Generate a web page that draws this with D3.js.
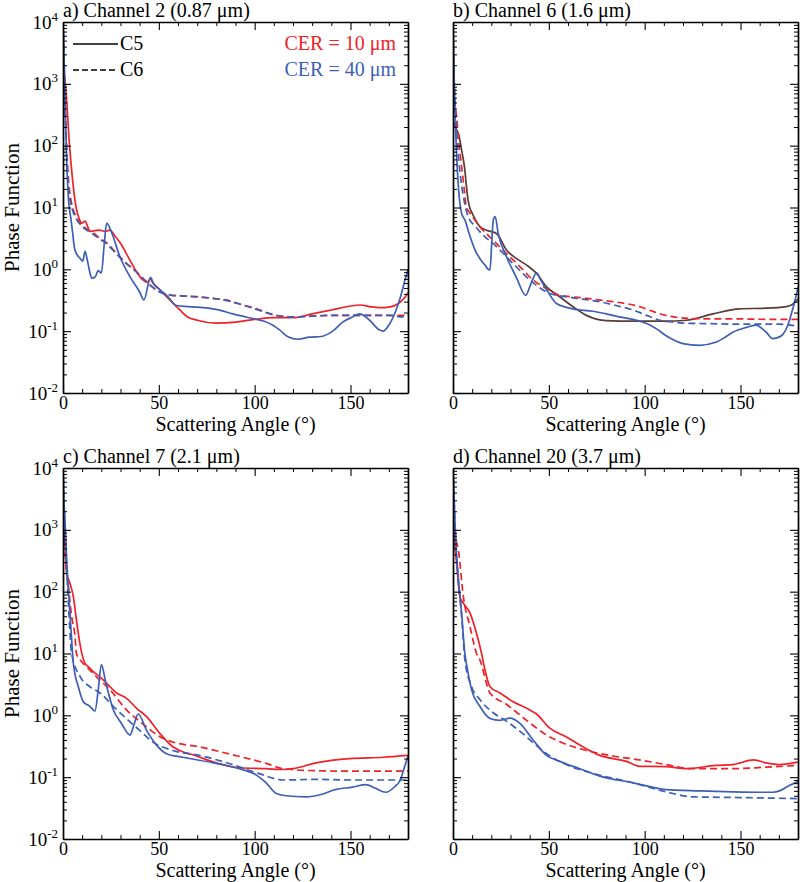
<!DOCTYPE html>
<html>
<head>
<meta charset="utf-8">
<script src="https://cdn.jsdelivr.net/npm/d3@7"></script>
<style>
  html, body { margin: 0; padding: 0; background: #fff; }
  svg { display: block; }
</style>
</head>
<body>
<svg id="chart" width="800" height="882"></svg>
<script>
// ---------------- DATA ----------------
const panelTitles = ["a) Channel 2 (0.87 \u03bcm)", "b) Channel 6 (1.6 \u03bcm)", "c) Channel 7 (2.1 \u03bcm)", "d) Channel 20 (3.7 \u03bcm)"];
const xTicks = [0, 50, 100, 150];
const yTicks = [1e-2, 1e-1, 1e0, 1e1, 1e2, 1e3, 1e4];
const legendVersions = ["C5", "C6"];
const legendSizes = ["CER = 10 \u03bcm", "CER = 40 \u03bcm"];

// Panel a) Channel 2
const a_C5_10 = [[0,2500],[1,1200],[2,500],[3,150],[4,60],[5,28],[6,15],[7,9.5],[8,7.2],[10,5.6],[11.5,6.0],[13,4.8],[14,4.1],[16,4.2],[19,4.3],[22,4.1],[24.5,4.3],[27,3.5],[30.5,2.5],[33,1.8],[35.8,1.26],[38,0.95],[41.8,0.67],[44,0.62],[45.5,0.7],[47,0.6],[50.5,0.47],[55.7,0.32],[61,0.22],[65,0.17],[70,0.15],[80,0.135],[90,0.14],[100,0.155],[110,0.165],[120,0.165],[130,0.19],[140,0.22],[150,0.255],[155,0.265],[160,0.25],[165,0.24],[170,0.245],[175,0.28],[178,0.34],[180,0.42]];
const a_C6_10 = [[0,10000],[0.5,2000],[1,500],[2,80],[3,25],[4,14],[5,10],[7,7],[9,5.6],[12,4.6],[15.8,3.9],[19,3.2],[22.7,2.7],[28,1.8],[33,1.26],[38.4,0.91],[43.6,0.63],[50.5,0.43],[57,0.38],[64,0.37],[71,0.36],[78,0.34],[85,0.32],[93,0.27],[101,0.23],[106,0.2],[111,0.18],[120,0.17],[130,0.175],[140,0.18],[150,0.18],[160,0.18],[170,0.18],[180,0.18]];
const a_C5_40 = [[0,10000],[0.5,3000],[1,600],[2,50],[3,12],[4,7],[5,4],[6,2.2],[7,1.8],[9,1.5],[10.3,1.35],[11.5,1.95],[12.7,1.4],[14,0.9],[15,0.72],[16.7,0.75],[18.4,0.95],[20,0.87],[21.5,2.5],[22.8,5.6],[25.4,3.9],[29.7,1.6],[34.9,0.76],[40,0.43],[42.2,0.32],[45.7,0.74],[47,0.6],[50.5,0.47],[54.8,0.36],[59.2,0.26],[65,0.25],[70,0.245],[80,0.225],[88.7,0.19],[99,0.16],[105,0.145],[109.5,0.125],[113,0.105],[117.4,0.081],[122.6,0.074],[128.6,0.08],[134.7,0.082],[140.7,0.1],[145.9,0.14],[151,0.17],[154.7,0.19],[160,0.15],[165,0.105],[167,0.1],[170,0.125],[173.8,0.22],[176,0.35],[178,0.6],[180,1.0]];
const a_C6_40 = [[0,10000],[0.5,3000],[1,700],[2,60],[3,18],[4,12],[5,9],[7,6.5],[9,5.3],[12,4.4],[15.8,3.7],[19,3.1],[22.7,2.6],[28,1.75],[33,1.24],[38.4,0.9],[43.6,0.62],[50.5,0.43],[57,0.38],[64,0.37],[71,0.355],[78,0.34],[85,0.315],[93,0.27],[101,0.225],[106,0.2],[111,0.18],[120,0.17],[130,0.175],[140,0.18],[150,0.18],[160,0.18],[170,0.18],[177,0.17],[180,0.18]];

// Panel b) Channel 6
const b_C5_10 = [[0,250],[1.5,190],[3,150],[4.5,85],[6,45],[7.5,16],[8.5,10.5],[10,8.1],[14,4.9],[17.5,4.3],[22.7,3.8],[27.9,2.05],[33,1.5],[38.4,1.17],[43.6,0.86],[48.8,0.52],[55.7,0.36],[62.5,0.25],[69.6,0.18],[80,0.148],[94,0.145],[111,0.145],[121.7,0.15],[135.6,0.19],[149.5,0.23],[163.4,0.235],[173.8,0.25],[177,0.27],[180,0.33]];
const b_C6_10 = [[0,10000],[0.3,3000],[1,550],[1.9,300],[3,120],[4.5,46],[6,18],[7,10],[8.9,8.1],[14,4.9],[21,2.95],[27.9,1.8],[35,1.1],[41.8,0.67],[48.8,0.49],[55.7,0.38],[62,0.36],[69.6,0.34],[76,0.32],[83.5,0.3],[90,0.28],[97.4,0.25],[104,0.21],[111,0.18],[118,0.165],[125,0.16],[135,0.158],[146,0.158],[160,0.156],[170,0.155],[180,0.155]];
const b_C5_40 = [[0,10000],[0.3,3000],[1,400],[2,60],[2.8,22],[4.5,8],[6.2,6.3],[8.9,3.4],[11.5,2.05],[14,1.5],[16.7,1.17],[18.4,1.0],[19.3,0.98],[20.3,3],[21,6.3],[22,7.1],[23.6,3.8],[27.9,1.6],[33,0.75],[37.9,0.38],[40.8,0.6],[43.6,0.88],[46,0.65],[48.8,0.47],[54,0.28],[62.5,0.23],[73,0.21],[85,0.175],[97.4,0.145],[103,0.125],[106,0.11],[111,0.085],[116,0.07],[120,0.063],[128.6,0.059],[137,0.066],[142,0.08],[146,0.096],[153,0.115],[158,0.125],[163.4,0.096],[166.8,0.076],[169,0.078],[172,0.088],[174.5,0.12],[176.5,0.19],[178.5,0.32],[180,0.52]];
const b_C6_40 = [[0,10000],[0.3,2000],[1,500],[2,150],[4,30],[6,12],[8,7],[11.8,4.9],[16,3.5],[21,2.6],[27.9,1.6],[33,1.1],[38.4,0.75],[43.6,0.55],[48.8,0.43],[54,0.38],[59,0.36],[67,0.33],[76.4,0.3],[85,0.26],[94,0.22],[101,0.18],[108,0.15],[115,0.14],[120,0.135],[135,0.132],[146,0.13],[160,0.13],[170,0.13],[176,0.125],[180,0.12]];

// Panel c) Channel 7
const c_C5_10 = [[0,3000],[1,690],[1.9,200],[3.6,138],[5.4,83],[7,35],[8.9,14],[10,9.5],[11.5,6.9],[13.3,6.1],[15.8,5.1],[19.3,4.2],[22.8,3.3],[28,2.3],[33,1.9],[38.4,1.3],[43.6,0.95],[50.5,0.51],[57.3,0.31],[62,0.26],[67.7,0.23],[80,0.17],[92,0.142],[106,0.137],[115,0.133],[120,0.137],[132,0.17],[149.5,0.2],[167,0.21],[180,0.225]];
const c_C6_10 = [[0,2300],[1,470],[3,107],[4.5,40],[6.3,18.6],[7,10],[9.5,7.5],[12.3,6.1],[17.5,4.2],[24.5,2.6],[33,1.24],[40,0.8],[45,0.6],[50.5,0.45],[57.3,0.37],[71,0.31],[88.5,0.23],[106,0.167],[115,0.137],[132,0.127],[150,0.125],[180,0.125]];
const c_C5_40 = [[0,10000],[0.5,3000],[1,1500],[2,300],[3,90],[4,30],[5.4,6.9],[8,2.9],[10.6,1.66],[14,1.4],[16.7,1.17],[18.4,2.6],[20,6.6],[22.4,3.3],[26.2,1.24],[30.5,0.74],[35,0.48],[37,0.7],[39.2,1.05],[43.6,0.57],[48.8,0.33],[54,0.24],[62.5,0.21],[80,0.167],[92,0.137],[100.9,0.108],[106,0.081],[111,0.055],[116.3,0.05],[126.7,0.048],[135,0.053],[142,0.063],[151,0.069],[158,0.076],[163,0.066],[168.5,0.057],[173,0.07],[176,0.09],[178,0.14],[180,0.22]];
const c_C6_40 = [[0,10000],[0.5,2500],[1,1000],[2,200],[3,50],[4.5,10],[9,4.2],[14,2.9],[19.3,2.3],[26.2,1.4],[33,0.89],[40,0.57],[46.9,0.37],[57.3,0.27],[71,0.225],[88.5,0.16],[102,0.115],[115,0.09],[132,0.092],[150,0.09],[180,0.09]];

// Panel d) Channel 20
const d_C5_10 = [[0,1000],[1.9,290],[3.6,83],[5.4,65],[8.9,45],[12.3,21],[14.9,10],[16.7,5.4],[19.3,2.9],[24.5,2.3],[31.4,1.66],[38.4,1.3],[43.6,1.05],[50.5,0.62],[59,0.45],[67.7,0.31],[76.6,0.225],[90.5,0.18],[97.4,0.15],[111,0.148],[121.7,0.137],[137,0.155],[146,0.16],[157,0.19],[163.4,0.17],[170.3,0.16],[180,0.175]];
const d_C6_10 = [[0,1000],[1,770],[2.8,470],[5.4,83],[8.9,27],[12.3,10],[14,7.9],[19.3,2.3],[28,1.5],[38.4,0.83],[48.8,0.48],[59,0.34],[69.6,0.27],[83.5,0.22],[97.4,0.19],[111,0.16],[125,0.137],[146,0.137],[163,0.145],[180,0.155]];
const d_C5_40 = [[0,10000],[1.4,690],[2.8,155],[4.5,45],[6.2,10],[7,6.9],[9.7,2.6],[14,1.4],[19.3,0.89],[24.5,0.83],[29.7,0.9],[34.9,0.74],[41.8,0.4],[48.8,0.225],[55.7,0.18],[66.1,0.137],[76.6,0.104],[94,0.081],[111,0.063],[128.6,0.06],[146,0.058],[163.4,0.057],[167,0.057],[170.3,0.06],[175,0.072],[180,0.085]];
const d_C6_40 = [[0,10000],[1.4,690],[2.8,155],[4.5,40],[6.2,7.9],[9.7,2.9],[14,1.8],[21,1.1],[28,0.8],[35,0.55],[41.8,0.36],[48.8,0.24],[59,0.16],[73,0.115],[94,0.081],[111,0.058],[125,0.048],[146,0.047],[180,0.045]];

// ---------------- STYLE / LAYOUT ----------------
const FONT = "'Liberation Serif', 'DejaVu Serif', serif";
const RED = "#ee2229", BLUE = "#3e5fb4", BROWN = "#5b3b37";
const DASH = "7,4";
const PW = 345, PH = 371;
const panels = [
  { left: 63,  top: 22,  title: panelTitles[0], yLabels: true,
    series: [[a_C5_10, RED, null], [a_C6_10, RED, DASH], [a_C5_40, BLUE, null], [a_C6_40, BLUE, DASH]], legend: true },
  { left: 453, top: 22,  title: panelTitles[1], yLabels: false,
    series: [[b_C5_10, BROWN, null], [b_C6_10, RED, DASH], [b_C5_40, BLUE, null], [b_C6_40, BLUE, DASH]] },
  { left: 63,  top: 468, title: panelTitles[2], yLabels: true,
    series: [[c_C5_10, RED, null], [c_C6_10, RED, DASH], [c_C5_40, BLUE, null], [c_C6_40, BLUE, DASH]] },
  { left: 453, top: 468, title: panelTitles[3], yLabels: false,
    series: [[d_C5_10, RED, null], [d_C6_10, RED, DASH], [d_C5_40, BLUE, null], [d_C6_40, BLUE, DASH]] }
];

const svg = d3.select("#chart").attr("font-family", FONT);
const x = d3.scaleLinear().domain([0, 180]).range([0, PW]);
const y = d3.scaleLog().domain([1e-2, 1e4]).range([PH, 0]);

const xMinor = d3.range(0, 181, 10).filter(v => v % 50 !== 0);
const yMinor = [];
for (let e = -2; e < 4; e++) for (let m = 2; m <= 9; m++) yMinor.push(m * Math.pow(10, e));

const line = d3.line().x(d => x(d[0])).y(d => y(d[1])).curve(d3.curveMonotoneX);

panels.forEach((p, i) => {
  const g = svg.append("g").attr("transform", `translate(${p.left},${p.top})`);
  const clipId = "clip" + i;
  g.append("clipPath").attr("id", clipId).append("rect").attr("width", PW).attr("height", PH);

  // curves
  const cg = g.append("g").attr("clip-path", `url(#${clipId})`);
  p.series.forEach(([data, color, dash]) => {
    cg.append("path").datum(data)
      .attr("d", line)
      .attr("fill", "none")
      .attr("stroke", color)
      .attr("stroke-width", 1.7)
      .attr("stroke-dasharray", dash)
      .attr("stroke-linejoin", "round");
  });

  const styleAxis = sel => {
    sel.attr("font-family", FONT);
    sel.select(".domain").attr("stroke", "#000").attr("stroke-width", 1.7);
    sel.selectAll(".tick line").attr("stroke", "#000").attr("stroke-width", 1.1);
  };
  const styleMinor = s => { s.select(".domain").remove(); s.selectAll(".tick line").attr("stroke", "#000"); };

  // bottom axis
  const bot = g.append("g").attr("transform", `translate(0,${PH})`)
    .call(d3.axisBottom(x).tickValues(xTicks).tickSizeInner(-8).tickSizeOuter(0).tickPadding(3).tickFormat(d3.format("d")));
  styleAxis(bot);
  bot.selectAll(".tick text").attr("font-size", 18).attr("font-family", FONT).attr("fill", "#000");
  g.append("g").attr("transform", `translate(0,${PH})`)
    .call(d3.axisBottom(x).tickValues(xMinor).tickSizeInner(-4).tickSizeOuter(0).tickFormat(""))
    .call(styleMinor);

  // top axis
  const top = g.append("g")
    .call(d3.axisTop(x).tickValues(xTicks).tickSizeInner(-8).tickSizeOuter(0).tickFormat(""));
  styleAxis(top);
  g.append("g")
    .call(d3.axisTop(x).tickValues(xMinor).tickSizeInner(-4).tickSizeOuter(0).tickFormat(""))
    .call(styleMinor);

  // left axis
  const left = g.append("g")
    .call(d3.axisLeft(y).tickValues(yTicks).tickSizeInner(-8).tickSizeOuter(0).tickFormat(""));
  styleAxis(left);
  g.append("g")
    .call(d3.axisLeft(y).tickValues(yMinor).tickSizeInner(-4).tickSizeOuter(0).tickFormat(""))
    .call(styleMinor);

  if (p.yLabels) {
    left.selectAll(".tick").each(function(d) {
      const t = d3.select(this).append("text")
        .attr("x", -5).attr("y", 6)
        .attr("text-anchor", "end")
        .attr("font-family", FONT)
        .attr("font-size", 19)
        .attr("fill", "#000");
      t.append("tspan").text("10");
      t.append("tspan").attr("font-size", 13).attr("dy", -8).text(Math.round(Math.log10(d)));
    });
  }

  // right axis
  const right = g.append("g").attr("transform", `translate(${PW},0)`)
    .call(d3.axisRight(y).tickValues(yTicks).tickSizeInner(-8).tickSizeOuter(0).tickFormat(""));
  styleAxis(right);
  g.append("g").attr("transform", `translate(${PW},0)`)
    .call(d3.axisRight(y).tickValues(yMinor).tickSizeInner(-4).tickSizeOuter(0).tickFormat(""))
    .call(styleMinor);

  // title
  g.append("text").attr("x", 0).attr("y", -5).attr("font-size", 20).attr("font-family", FONT).text(p.title);

  // x label
  g.append("text").attr("x", PW / 2).attr("y", PH + 38)
    .attr("text-anchor", "middle").attr("font-size", 20).attr("font-family", FONT)
    .text("Scattering Angle (\u00b0)");

  // y label
  if (p.yLabels) {
    g.append("text")
      .attr("transform", `translate(${-44},${PH / 2}) rotate(-90)`)
      .attr("text-anchor", "middle").attr("font-size", 21).attr("font-family", FONT)
      .text("Phase Function");
  }

  // legend
  if (p.legend) {
    const lg = g.append("g").attr("font-family", FONT);
    [null, DASH].forEach((dash, k) => {
      lg.append("line").attr("x1", 10).attr("x2", 55).attr("y1", 22 + k * 26).attr("y2", 22 + k * 26)
        .attr("stroke", "#000").attr("stroke-width", 1.5).attr("stroke-dasharray", dash === DASH ? "6,3" : null);
      lg.append("text").attr("x", 57).attr("y", 28 + k * 26).attr("font-size", 20).text(legendVersions[k]);
    });
    [RED, BLUE].forEach((c, k) => {
      lg.append("text").attr("x", PW - 12).attr("y", 28 + k * 26).attr("text-anchor", "end")
        .attr("font-size", 20).attr("fill", c).text(legendSizes[k]);
    });
  }
});
</script>
</body>
</html>
